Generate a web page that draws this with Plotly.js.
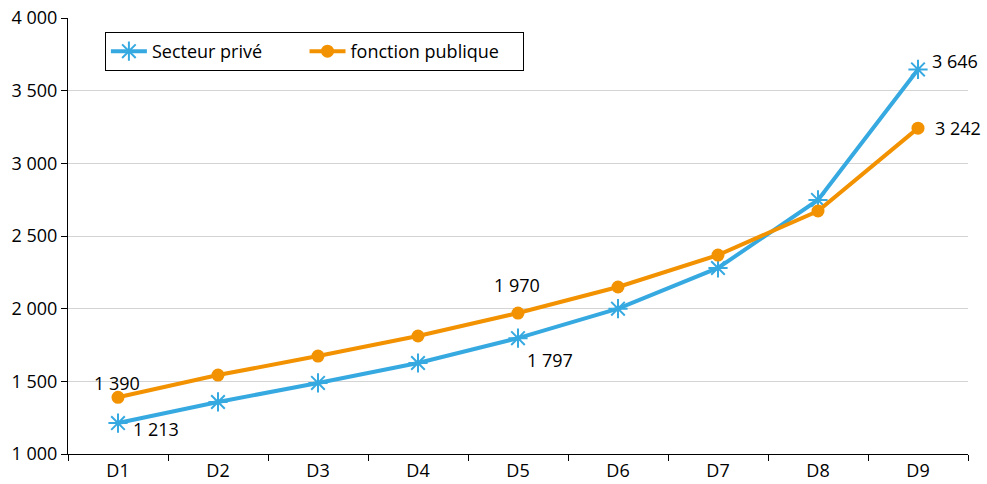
<!DOCTYPE html>
<html>
<head>
<meta charset="utf-8">
<script src="https://cdn.plot.ly/plotly-3.0.1.min.js"></script>
<style>html,body{margin:0;padding:0;background:#fff;}#chart{width:987px;height:484px;}</style>
</head>
<body>
<div id="chart"></div>
<script>
const categories = ['D1','D2','D3','D4','D5','D6','D7','D8','D9'];
const prive = [1213, 1358, 1489, 1626, 1797, 2000, 2280, 2748, 3646];
const publique = [1390, 1543, 1674, 1812, 1970, 2149, 2369, 2672, 3242];
const seriesNames = ['Secteur privé', 'fonction publique'];
// indices of the points carrying a value label
const priveLabelIdx = [0, 4, 8];
const publiqueLabelIdx = [0, 4, 8];
// label offsets (pixels) from their points
const priveLabelShift = [[38, -6], [32, -22], [37, 8]];
const publiqueLabelShift = [[-1, 14], [-1, 28], [40, 0]];

function fmt(v){ return String(v).replace(/\B(?=(\d{3})+(?!\d))/g, ' '); }
const pad = n => '\u00a0'.repeat(n);

const font = {family: 'Open Sans, DejaVu Sans, sans-serif', size: 18, color: '#000'};

const traces = [
  {
    x: categories, y: prive, name: seriesNames[0] + pad(8), type: 'scatter', mode: 'lines+markers',
    line: {color: '#36a9e1', width: 4},
    marker: {symbol: 'asterisk-open', size: 16, color: '#36a9e1', line: {color: '#36a9e1', width: 2}},
    cliponaxis: false
  },
  {
    x: categories, y: publique, name: seriesNames[1] + pad(4), type: 'scatter', mode: 'lines+markers',
    line: {color: '#f39200', width: 4},
    marker: {symbol: 'circle', size: 13, color: '#f39200'},
    cliponaxis: false
  }
];

const annotations = [];
priveLabelIdx.forEach((i, k) => annotations.push({
  x: categories[i], y: prive[i], xref: 'x', yref: 'y', text: fmt(prive[i]), showarrow: false,
  xshift: priveLabelShift[k][0], yshift: priveLabelShift[k][1], font: font
}));
publiqueLabelIdx.forEach((i, k) => annotations.push({
  x: categories[i], y: publique[i], xref: 'x', yref: 'y', text: fmt(publique[i]), showarrow: false,
  xshift: publiqueLabelShift[k][0], yshift: publiqueLabelShift[k][1], font: font
}));

const layout = {
  width: 987, height: 484,
  margin: {l: 68, r: 19, t: 18, b: 30},
  paper_bgcolor: '#fff', plot_bgcolor: '#fff',
  font: font,
  separators: ', ',
  showlegend: true,
  legend: {
    x: 0.041, y: 0.968, xanchor: 'left', yanchor: 'top',
    orientation: 'h', bordercolor: '#000', borderwidth: 1,
    bgcolor: '#fff', font: font, itemwidth: 36
  },
  annotations: annotations,
  xaxis: {
    type: 'category', tickson: 'boundaries', ticks: 'outside', ticklen: 6,
    tickcolor: '#000', showline: true, linecolor: '#000', linewidth: 1,
    showgrid: false, tickfont: font, range: [-0.5, 8.5], fixedrange: true
  },
  yaxis: {
    range: [1000, 4000], dtick: 500, tickformat: ',d',
    ticks: 'outside', ticklen: 6, tickcolor: '#000',
    showline: true, linecolor: '#000', linewidth: 1,
    showgrid: true, gridcolor: '#d4d4d4', gridwidth: 1,
    zeroline: false, tickfont: font
  }
};

Plotly.newPlot('chart', traces, layout, {displayModeBar: false, staticPlot: true});
</script>
</body>
</html>
